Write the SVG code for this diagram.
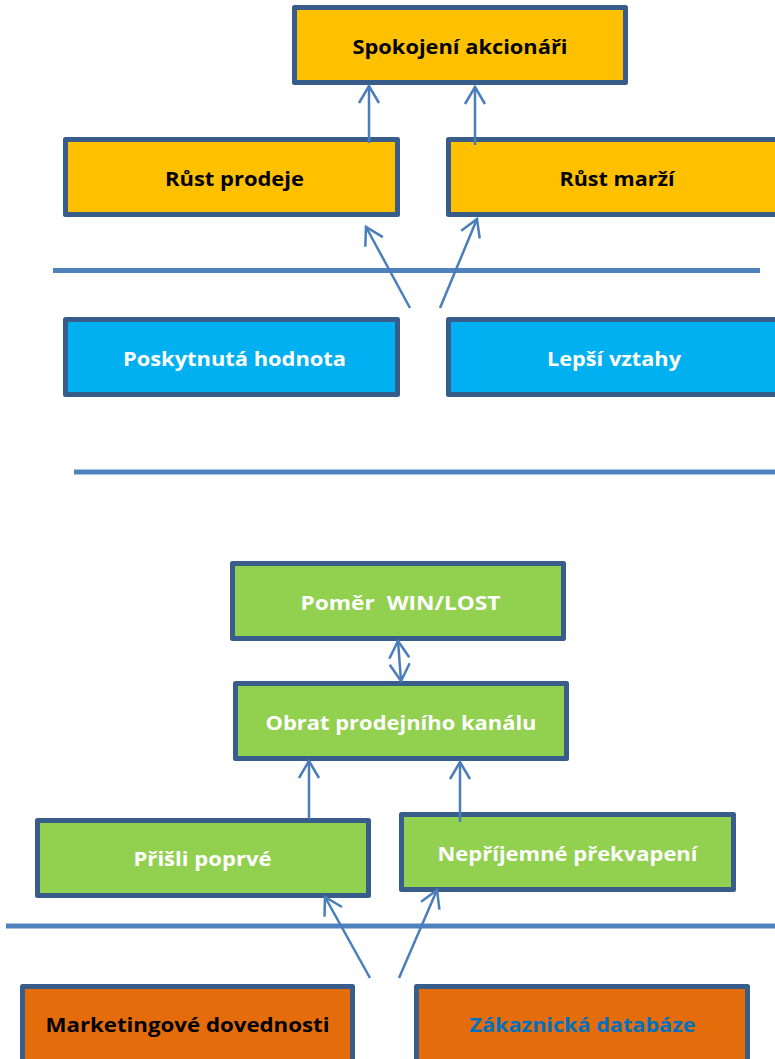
<svg xmlns="http://www.w3.org/2000/svg" width="775" height="1059" viewBox="0 0 775 1059">
<style>
.box{stroke:#385D8A;stroke-width:5;stroke-linejoin:round}
.y{fill:#FFC000}.b{fill:#00B0F0}.g{fill:#92D050}.o{fill:#E46C0A}
.t{font-family:"Open Sans","Liberation Sans",Arial,sans-serif;font-weight:bold;font-size:19px;text-anchor:middle}
.dk{fill:#000}.wh{fill:#fff}.bl{fill:#0070C0}
.sep{stroke:#4F81BD;stroke-width:5;fill:none}
.arr{stroke:#4A7EBB;stroke-width:2.5;fill:none;marker-end:url(#ah)}
</style>
<defs>
<marker id="ah" markerUnits="userSpaceOnUse" viewBox="-20 -12 22 24" refX="0" refY="0" markerWidth="22" markerHeight="24" orient="auto-start-reverse" overflow="visible">
<path d="M-17,-10 L0,0 L-17,10" fill="none" stroke="#4A7EBB" stroke-width="2.5"/>
</marker>
</defs>
<rect width="775" height="1059" fill="#fff"/>
<g id="separators">
<line class="sep" x1="53" y1="270.5" x2="760" y2="270.5"/>
<line class="sep" x1="74" y1="472" x2="780" y2="472"/>
<line class="sep" x1="6" y1="926" x2="780" y2="926"/>
</g>
<g id="spokojeni"><rect class="box y" x="294.5" y="7.5" width="331" height="75"/><text class="t dk" x="460" y="54" textLength="215" lengthAdjust="spacingAndGlyphs">Spokojení akcionáři</text></g>
<g id="rust-prodeje"><rect class="box y" x="65.5" y="139.5" width="332" height="75"/><text class="t dk" x="234.5" y="186" textLength="139" lengthAdjust="spacingAndGlyphs">Růst prodeje</text></g>
<g id="rust-marzi"><rect class="box y" x="448.5" y="139.5" width="332" height="75"/><text class="t dk" x="617" y="186" textLength="115" lengthAdjust="spacingAndGlyphs">Růst marží</text></g>
<g id="poskytnuta"><rect class="box b" x="65.5" y="319.5" width="332" height="75"/><text class="t wh" x="234.5" y="366" textLength="223" lengthAdjust="spacingAndGlyphs">Poskytnutá hodnota</text></g>
<g id="lepsi"><rect class="box b" x="448.5" y="319.5" width="332" height="75"/><text class="t wh" x="614" y="366" textLength="134" lengthAdjust="spacingAndGlyphs">Lepší vztahy</text></g>
<g id="pomer"><rect class="box g" x="232.5" y="563.5" width="331" height="75"/><text class="t wh" x="400.5" y="610" textLength="200" lengthAdjust="spacingAndGlyphs" xml:space="preserve">Poměr  WIN/LOST</text></g>
<g id="obrat"><rect class="box g" x="235.5" y="683.5" width="331" height="75"/><text class="t wh" x="401" y="730" textLength="271" lengthAdjust="spacingAndGlyphs">Obrat prodejního kanálu</text></g>
<g id="prisli"><rect class="box g" x="37.5" y="820.5" width="331" height="75"/><text class="t wh" x="202.5" y="866" textLength="138" lengthAdjust="spacingAndGlyphs">Přišli poprvé</text></g>
<g id="neprijemne"><rect class="box g" x="401.5" y="814.5" width="332" height="75"/><text class="t wh" x="567.5" y="861" textLength="260" lengthAdjust="spacingAndGlyphs">Nepříjemné překvapení</text></g>
<g id="marketingove"><rect class="box o" x="22.5" y="986.5" width="330" height="75"/><text class="t dk" x="187.5" y="1032" textLength="284" lengthAdjust="spacingAndGlyphs">Marketingové dovednosti</text></g>
<g id="zakaznicka"><rect class="box o" x="416.5" y="986.5" width="331" height="75"/><text class="t bl" x="582.5" y="1032" textLength="226" lengthAdjust="spacingAndGlyphs">Zákaznická databáze</text></g>
<g id="connectors">
<line class="arr" x1="369" y1="143" x2="369" y2="86"/>
<line class="arr" x1="475" y1="145" x2="475" y2="87"/>
<line class="arr" x1="410" y1="308" x2="366" y2="227"/>
<line class="arr" x1="440" y1="308" x2="477" y2="219"/>
<line class="arr" x1="398" y1="641" x2="401" y2="681" style="marker-start:url(#ah)"/>
<line class="arr" x1="309" y1="819" x2="309" y2="761"/>
<line class="arr" x1="460" y1="822" x2="460" y2="762"/>
<line class="arr" x1="370" y1="978" x2="325" y2="897"/>
<line class="arr" x1="399" y1="978" x2="437" y2="890"/>
</g>
</svg>
